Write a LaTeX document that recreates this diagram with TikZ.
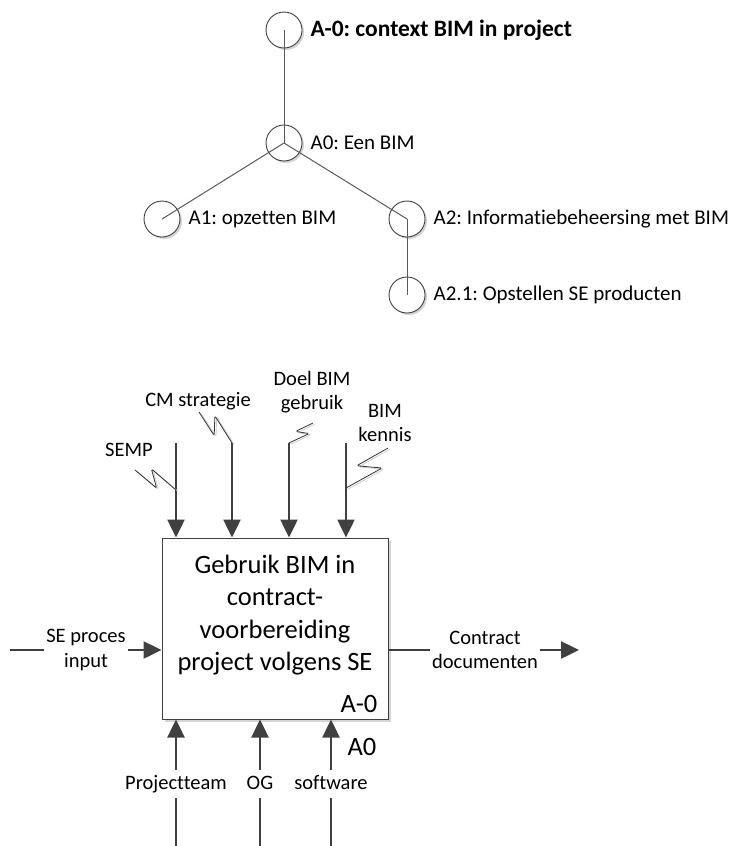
\documentclass[tikz,border=0pt]{standalone}
\usepackage{fontspec}
\setmainfont{Carlito}[Ligatures={NoCommon}]
\usepackage{tikz}
\usetikzlibrary{arrows.meta,shapes,shadows,positioning,calc}
\usepackage{xcolor}
\definecolor{linegray}{HTML}{404040}
\definecolor{treegray}{HTML}{5A5A5A}
\definecolor{shadegray}{HTML}{D4D4D4}
\frenchspacing

% squiggle from a label to its arrow
\newcommand{\squig}[2]{%
  \draw[squigshade] (#1) -- ($(#1)!0.62!-14:(#2)$) -- ($(#1)!0.36!30:(#2)$) -- (#2);
  \draw[squigline] (#1) -- ($(#1)!0.62!-14:(#2)$) -- ($(#1)!0.36!30:(#2)$) -- (#2);}

\begin{document}
\begin{tikzpicture}[x=1pt, y=-1pt,
    treenode/.style={circle, draw=linegray, line width=0.9pt, fill=white, minimum size=36pt, inner sep=0pt,
      drop shadow={shadow xshift=2pt, shadow yshift=-2pt, fill=shadegray, opacity=1}},
    treelbl/.style={inner sep=2pt, font=\fontsize{21}{25}\selectfont},
    treeline/.style={draw=treegray, line width=1pt},
    procbox/.style={draw=linegray, line width=1pt, fill=white, minimum width=226pt, minimum height=181pt,
      drop shadow={shadow xshift=3pt, shadow yshift=-3pt, fill=shadegray, opacity=1}},
    boxtxt/.style={align=center, inner sep=0pt, font=\fontsize{26.5}{32.4}\selectfont},
    idnum/.style={inner sep=0pt, font=\fontsize{26.5}{30}\selectfont},
    flowlbl/.style={inner xsep=2pt, inner ysep=4pt, font=\fontsize{20.5}{24.5}\selectfont},
    botlbl/.style={flowlbl, text height=14pt, text depth=4pt, inner ysep=5pt},
    flowline/.style={draw=linegray, line width=2.5pt},
    flowarrow/.style={flowline, -{Triangle[length=18pt,width=17pt]}},
    squigline/.style={draw=black!80, line width=0.8pt, rounded corners=1.5pt},
    squigshade/.style={draw=black!20, line width=0.8pt, rounded corners=1.5pt,
      transform canvas={xshift=1.8pt, yshift=-1.2pt}}]
  \useasboundingbox (0,0) rectangle (737,846);

  % Node tree
  \node[treenode] (ctx) at (284,30) {};
  \node[treenode] (een) at (284,143) {};
  \node[treenode] (opz) at (162,219) {};
  \node[treenode] (info) at (407,219) {};
  \node[treenode] (sepr) at (407,295) {};

  \node[treelbl, right=6pt of ctx, font=\fontsize{23.5}{27}\selectfont\bfseries] (ctx lbl) {A-0: context BIM in project};
  \node[treelbl, right=6pt of een] (een lbl) {A0: Een BIM};
  \node[treelbl, right=6pt of opz] (opz lbl) {A1: opzetten BIM};
  \node[treelbl, right=6pt of info] (info lbl) {A2: Informatiebeheersing met BIM};
  \node[treelbl, right=6pt of sepr] (sepr lbl) {A2.1: Opstellen SE producten};

  \draw[treeline] (ctx.center) -- (een.center);
  \draw[treeline] (een.center) -- (opz.center);
  \draw[treeline] (een.center) -- (info.center);
  \draw[treeline] (info.center) -- (sepr.center);

  % Activity box
  \node[procbox] (proc) at (275,628.5) {};
  \node[boxtxt] (proc txt) at (275,615) {Gebruik BIM in\\contract-\\voorbereiding\\project volgens SE};
  \node[idnum, anchor=south east] (proc id) at ($(proc.south east)+(-11,-7)$) {A-0};
  \node[idnum] (proc node) at (362,747) {A0};

  % Controls
  \coordinate (semp top) at (176,443);
  \coordinate (cm top) at (232,443);
  \coordinate (doel top) at (289,443);
  \coordinate (kennis top) at (346,443);
  \draw[flowarrow] (semp top) -- (semp top |- proc.north);
  \draw[flowarrow] (cm top) -- (cm top |- proc.north);
  \draw[flowarrow] (doel top) -- (doel top |- proc.north);
  \draw[flowarrow] (kennis top) -- (kennis top |- proc.north);

  \node[flowlbl] (semp) at (129,450) {SEMP};
  \node[flowlbl] (cm) at (198,401) {CM strategie};
  \node[flowlbl, align=center] (doel) at (312,392) {Doel BIM\\gebruik};
  \node[flowlbl, align=center] (kennis) at (385,423) {BIM\\kennis};

  \coordinate (semp sq) at (135,470);
  \coordinate (semp hit) at (176,490);
  \coordinate (cm sq) at (199,412);
  \coordinate (doel sq) at (313,423);
  \coordinate (kennis sq) at (388,448);
  \coordinate (kennis hit) at (346,488);
  \squig{semp sq}{semp hit}
  \squig{cm sq}{cm top}
  \squig{doel sq}{doel top}
  \squig{kennis sq}{kennis hit}

  % Input and output
  \coordinate (in start) at (10,650);
  \node[flowlbl, align=center] (input) at (86,650) {SE proces\\input};
  \draw[flowline] (in start) -- (input.west);
  \draw[flowarrow] (input.east) -- (proc.west |- input.east);

  \node[flowlbl, align=center] (output) at (485,650) {Contract\\documenten};
  \coordinate (out end) at (579,650);
  \draw[flowline] (proc.east |- output.west) -- (output.west);
  \draw[flowarrow] (output.east) -- (out end);

  % Mechanisms
  \node[botlbl] (team) at (176,784) {Projectteam};
  \node[botlbl] (og) at (260,784) {OG};
  \node[botlbl] (sw) at (331,784) {software};
  \coordinate (team in) at (176,846);
  \coordinate (og in) at (260,846);
  \coordinate (sw in) at (331,846);
  \draw[flowline] (team in) -- (team.south);
  \draw[flowline] (og in) -- (og.south);
  \draw[flowline] (sw in) -- (sw.south);
  \draw[flowarrow] (team.north) -- (team.north |- proc.south);
  \draw[flowarrow] (og.north) -- (og.north |- proc.south);
  \draw[flowarrow] (sw.north) -- (sw.north |- proc.south);
\end{tikzpicture}
\end{document}
